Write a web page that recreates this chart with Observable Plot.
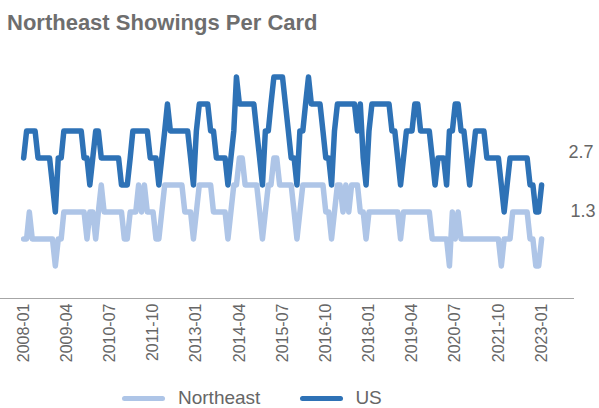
<!DOCTYPE html>
<html>
<head>
<meta charset="utf-8">
<script src="https://cdn.jsdelivr.net/npm/d3@7"></script>
<script src="https://cdn.jsdelivr.net/npm/@observablehq/plot@0.6"></script>
<style>
  html, body { margin: 0; padding: 0; background: #fff; }
  body { width: 599px; height: 408px; overflow: hidden; font-family: "Liberation Sans", Arial, sans-serif; }
  #title { box-sizing: border-box; height: 34px; padding: 12px 0 0 7px; font-size: 22px; line-height: 22px; font-weight: bold; color: #6e6e6e; white-space: nowrap; }
  #chart svg { display: block; }
  #legend { height: 30px; margin-top: 5px; display: flex; align-items: center; padding-left: 122px; font-size: 19px; color: #666; }
  .sw { width: 43px; height: 5px; border-radius: 3px; }
</style>
</head>
<body>
<div id="title">Northeast Showings Per Card</div>
<div id="chart"></div>
<div id="legend">
  <div class="sw" id="swNE"></div><span style="margin-left:13px">Northeast</span>
  <div class="sw" id="swUS" style="margin-left:40px"></div><span style="margin-left:12px">US</span>
</div>
<script>
// Monthly values, 2008-01 .. 2023-01
const startYear = 2008, startMonth = 0;
const usValues = [
  2.5, 3.0, 3.0, 3.0, 3.0, 2.5, 2.5, 2.5, 2.5, 2.5, 2.0, 1.5, // 2008
  2.5, 2.5, 3.0, 3.0, 3.0, 3.0, 3.0, 3.0, 3.0, 2.5, 2.5, 2.0, // 2009
  2.5, 3.0, 3.0, 2.5, 2.5, 2.5, 2.5, 2.5, 2.5, 2.5, 2.0, 2.0, // 2010
  2.0, 2.5, 3.0, 3.0, 3.0, 3.0, 3.0, 3.0, 2.5, 2.5, 2.5, 2.0, // 2011
  2.5, 3.0, 3.5, 3.0, 3.0, 3.0, 3.0, 3.0, 3.0, 3.0, 2.5, 2.0, // 2012
  3.0, 3.5, 3.5, 3.5, 3.5, 3.0, 3.0, 2.5, 2.5, 2.5, 2.5, 2.0, // 2013
  2.5, 3.0, 4.0, 3.5, 3.5, 3.5, 3.5, 3.5, 3.5, 3.0, 2.5, 2.0, // 2014
  3.0, 3.0, 3.5, 4.0, 4.0, 4.0, 4.0, 3.5, 3.0, 2.5, 2.5, 2.0, // 2015
  3.0, 3.0, 3.5, 4.0, 3.5, 3.5, 3.5, 3.5, 3.0, 2.5, 2.5, 2.0, // 2016
  3.0, 3.5, 3.5, 3.5, 3.5, 3.5, 3.5, 3.5, 3.0, 3.5, 2.5, 2.0, // 2017
  3.0, 3.5, 3.5, 3.5, 3.5, 3.5, 3.5, 3.5, 3.0, 3.0, 2.5, 2.0, // 2018
  2.5, 3.0, 3.0, 3.0, 3.5, 3.5, 3.0, 3.0, 3.0, 3.0, 2.5, 2.0, // 2019
  2.5, 2.5, 2.5, 2.0, 3.0, 3.0, 3.5, 3.5, 3.0, 3.0, 2.5, 2.0, // 2020
  2.5, 3.0, 3.0, 3.0, 3.0, 2.5, 2.5, 2.5, 2.5, 2.5, 2.0, 1.5, // 2021
  2.0, 2.5, 2.5, 2.5, 2.5, 2.5, 2.5, 2.5, 2.0, 2.0, 1.5, 1.5, // 2022
  2.0                                                         // 2023
];
const neValues = [
  1.0, 1.0, 1.5, 1.0, 1.0, 1.0, 1.0, 1.0, 1.0, 1.0, 1.0, 0.5, // 2008
  1.0, 1.0, 1.5, 1.5, 1.5, 1.5, 1.5, 1.5, 1.5, 1.5, 1.0, 1.5, // 2009
  1.5, 1.0, 1.5, 2.0, 1.5, 1.5, 1.5, 1.5, 1.5, 1.5, 1.5, 1.0, // 2010
  1.0, 1.5, 1.5, 1.5, 2.0, 1.5, 2.0, 1.5, 1.5, 1.5, 1.0, 1.0, // 2011
  1.5, 2.0, 2.0, 2.0, 2.0, 2.0, 2.0, 2.0, 1.5, 1.5, 1.5, 1.0, // 2012
  1.5, 2.0, 2.0, 2.0, 2.0, 2.0, 1.5, 1.5, 1.5, 1.5, 1.5, 1.0, // 2013
  1.5, 2.0, 2.0, 2.5, 2.5, 2.0, 2.0, 2.0, 2.0, 2.0, 1.5, 1.0, // 2014
  1.5, 2.0, 2.0, 2.5, 2.5, 2.0, 2.0, 2.0, 2.0, 2.0, 1.5, 1.0, // 2015
  1.5, 2.0, 2.0, 2.0, 2.0, 2.0, 2.0, 2.0, 2.0, 1.5, 1.5, 1.0, // 2016
  1.5, 2.0, 2.0, 1.5, 2.0, 1.5, 2.0, 2.0, 2.0, 1.5, 1.5, 1.0, // 2017
  1.5, 1.5, 1.5, 1.5, 1.5, 1.5, 1.5, 1.5, 1.5, 1.5, 1.5, 1.0, // 2018
  1.5, 1.5, 1.5, 1.5, 1.5, 1.5, 1.5, 1.5, 1.5, 1.5, 1.0, 1.0, // 2019
  1.0, 1.0, 1.0, 1.0, 0.5, 1.5, 1.0, 1.5, 1.0, 1.0, 1.0, 1.0, // 2020
  1.0, 1.0, 1.0, 1.0, 1.0, 1.0, 1.0, 1.0, 1.0, 1.0, 0.5, 1.0, // 2021
  1.0, 1.0, 1.5, 1.5, 1.5, 1.5, 1.5, 1.5, 1.0, 1.0, 0.5, 0.5, // 2022
  1.0                                                         // 2023
];
const tickLabels = ["2008-01","2009-04","2010-07","2011-10","2013-01","2014-04","2015-07",
                    "2016-10","2018-01","2019-04","2020-07","2021-10","2023-01"];
const seriesNames = ["Northeast", "US"];
const seriesColors = ["#aec5e7", "#2e72b6"];
const sideLabels = ["2.7", "1.3"];
const sideValues = [2.7, 1.3];

const monthDate = i => new Date(Date.UTC(startYear, startMonth + i, 1));
const neData = neValues.map((v, i) => ({date: monthDate(i), value: v}));
const usData = usValues.map((v, i) => ({date: monthDate(i), value: v}));
const tickDates = tickLabels.map(s => new Date(s + "-01T00:00:00Z"));

document.getElementById("swNE").style.background = seriesColors[0];
document.getElementById("swUS").style.background = seriesColors[1];

const yMin = -0.1;
const chart = Plot.plot({
  width: 599,
  height: 344,
  marginLeft: 0,
  marginRight: 25,
  marginTop: 10,
  marginBottom: 80,
  style: {fontFamily: "'Liberation Sans', Arial, sans-serif", background: "#fff", overflow: "visible", color: "#666"},
  x: {type: "utc", domain: [new Date(Date.UTC(2007, 4, 1)), new Date(Date.UTC(2023, 11, 15))]},
  y: {domain: [yMin, 4.6], axis: null},
  marks: [
    Plot.ruleY([yMin], {stroke: "#a6a6a6", strokeWidth: 1}),
    Plot.axisX({ticks: tickDates, tickFormat: d3.utcFormat("%Y-%m"), tickRotate: -90, tickSize: 0,
                tickPadding: 5, fontSize: 16, fill: "#666", label: null}),
    Plot.lineY(neData, {x: "date", y: "value", stroke: seriesColors[0], strokeWidth: 5.5,
                        strokeLinejoin: "round", strokeLinecap: "round"}),
    Plot.lineY(usData, {x: "date", y: "value", stroke: seriesColors[1], strokeWidth: 5.5,
                        strokeLinejoin: "round", strokeLinecap: "round"}),
    Plot.text([sideValues[0]], {y: d => d, text: () => sideLabels[0], frameAnchor: "right",
                                textAnchor: "start", dx: -6, dy: 5, fontSize: 18, fill: "#666"}),
    Plot.text([sideValues[1]], {y: d => d, text: () => sideLabels[1], frameAnchor: "right",
                                textAnchor: "start", dx: -4, dy: -12, fontSize: 18, fill: "#666"})
  ]
});
document.getElementById("chart").appendChild(chart);
</script>
</body>
</html>
